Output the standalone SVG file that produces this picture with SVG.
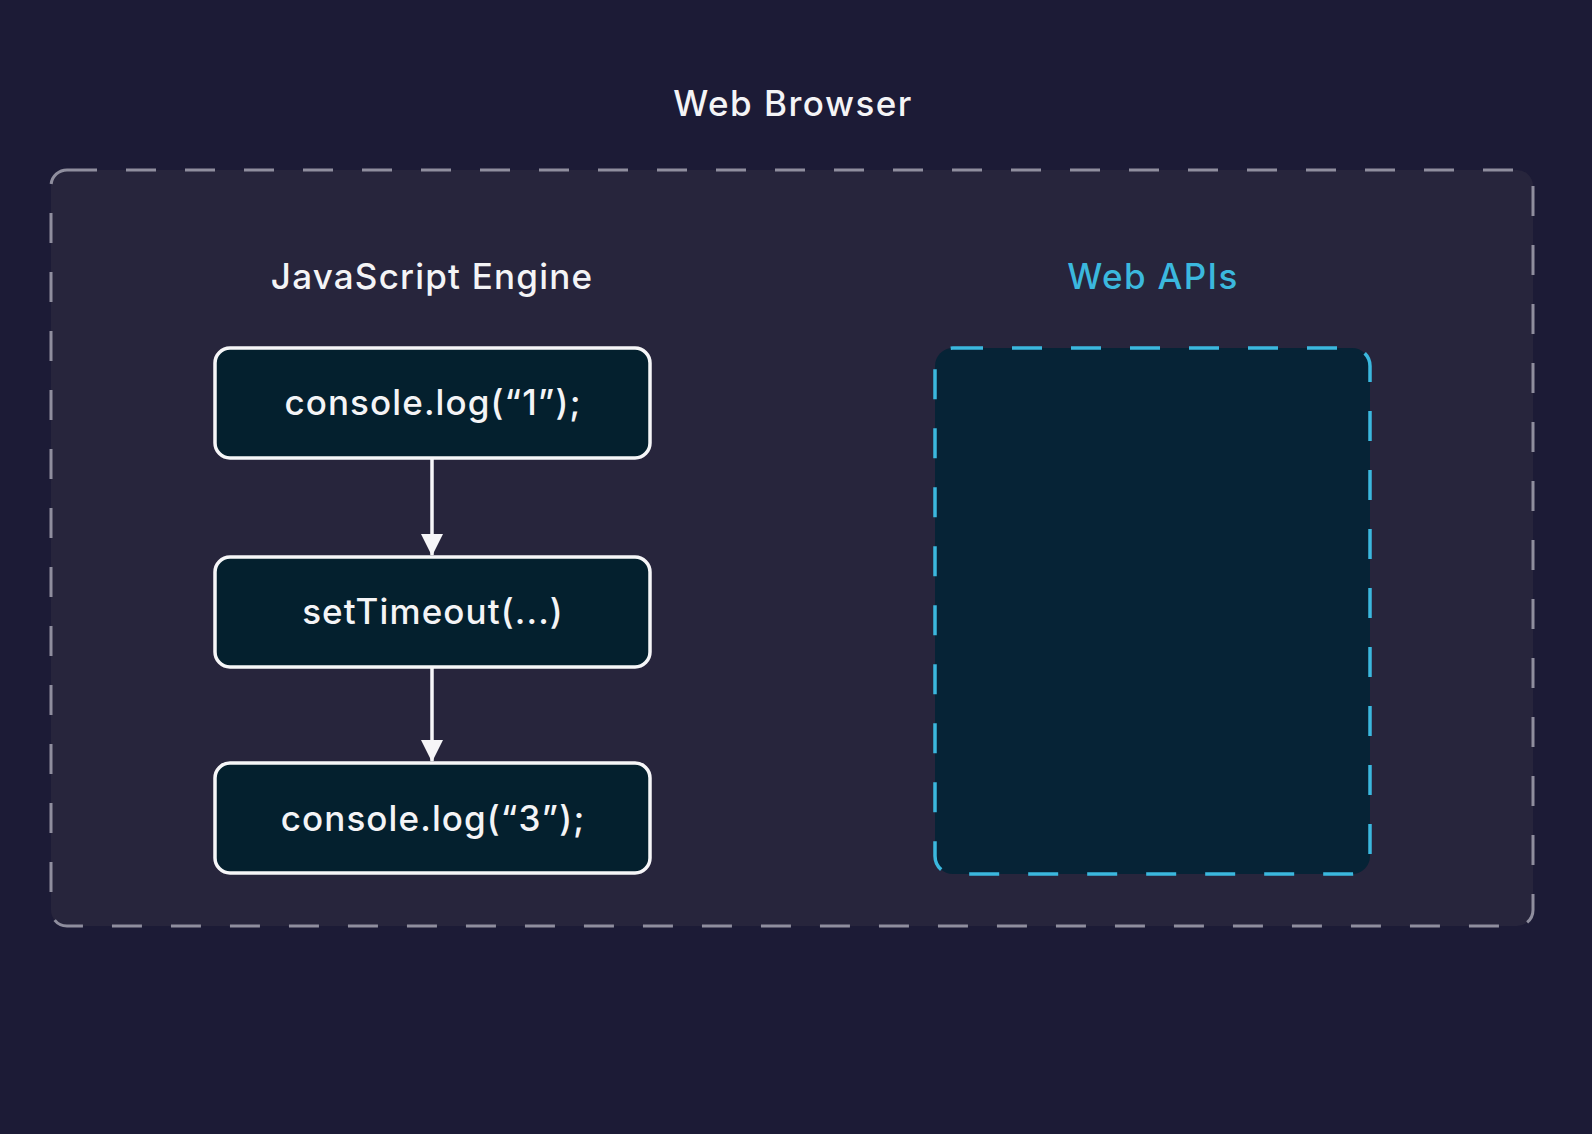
<svg xmlns="http://www.w3.org/2000/svg" width="1592" height="1134" viewBox="0 0 1592 1134">
  <defs>
    <style>
      .title { font-family: Inter, "Liberation Sans", sans-serif; font-weight: 500; font-size: 35px; letter-spacing: 1.3px; fill: #f4f4f6; text-anchor: middle; }
      .node rect { fill: #04202e; stroke: #f6f6f8; stroke-width: 3.5; }
      .node text { font-family: Inter, "Liberation Sans", sans-serif; font-weight: 500; font-size: 35px; letter-spacing: 1.1px; fill: #f4f4f6; text-anchor: middle; }
      .conn line { stroke: #f6f6f8; stroke-width: 3.5; }
    </style>
    <marker id="arrow" viewBox="0 0 22 24" refX="21" refY="12" markerWidth="22" markerHeight="24" markerUnits="userSpaceOnUse" orient="auto">
      <path d="M0,1 L22,12 L0,23 Z" fill="#f6f6f8"/>
    </marker>
  </defs>
  <rect x="0" y="0" width="1592" height="1134" fill="#1c1b36"/>

  <g id="web-browser">
    <rect x="51" y="170" width="1482" height="756" rx="16" fill="#27253c" stroke="#8f8e9e" stroke-width="3" stroke-dasharray="30 29"/>
    <text class="title" x="793" y="116" style="letter-spacing:1.5px">Web Browser</text>
  </g>

  <g id="js-engine-label">
    <text class="title" x="432" y="289" style="letter-spacing:1.2px">JavaScript Engine</text>
  </g>

  <g id="web-apis">
    <rect x="935" y="348" width="435" height="526" rx="18" fill="#062336" stroke="#3bb8de" stroke-width="3.5" stroke-dasharray="30 29"/>
    <text class="title" x="1153" y="289" style="fill:#3bb8de;letter-spacing:1.35px">Web APIs</text>
  </g>

  <g id="node-log1" class="node">
    <rect x="215" y="348" width="435" height="110" rx="15"/>
    <text x="433" y="415">console.log(“1”);</text>
  </g>
  <g id="node-settimeout" class="node">
    <rect x="215" y="557" width="435" height="110" rx="15"/>
    <text x="433" y="624">setTimeout(...)</text>
  </g>
  <g id="node-log3" class="node">
    <rect x="215" y="763" width="435" height="110" rx="15"/>
    <text x="433" y="831">console.log(“3”);</text>
  </g>

  <g id="connectors" class="conn">
    <line x1="432" y1="458" x2="432" y2="555" marker-end="url(#arrow)"/>
    <line x1="432" y1="667" x2="432" y2="761" marker-end="url(#arrow)"/>
  </g>
</svg>
